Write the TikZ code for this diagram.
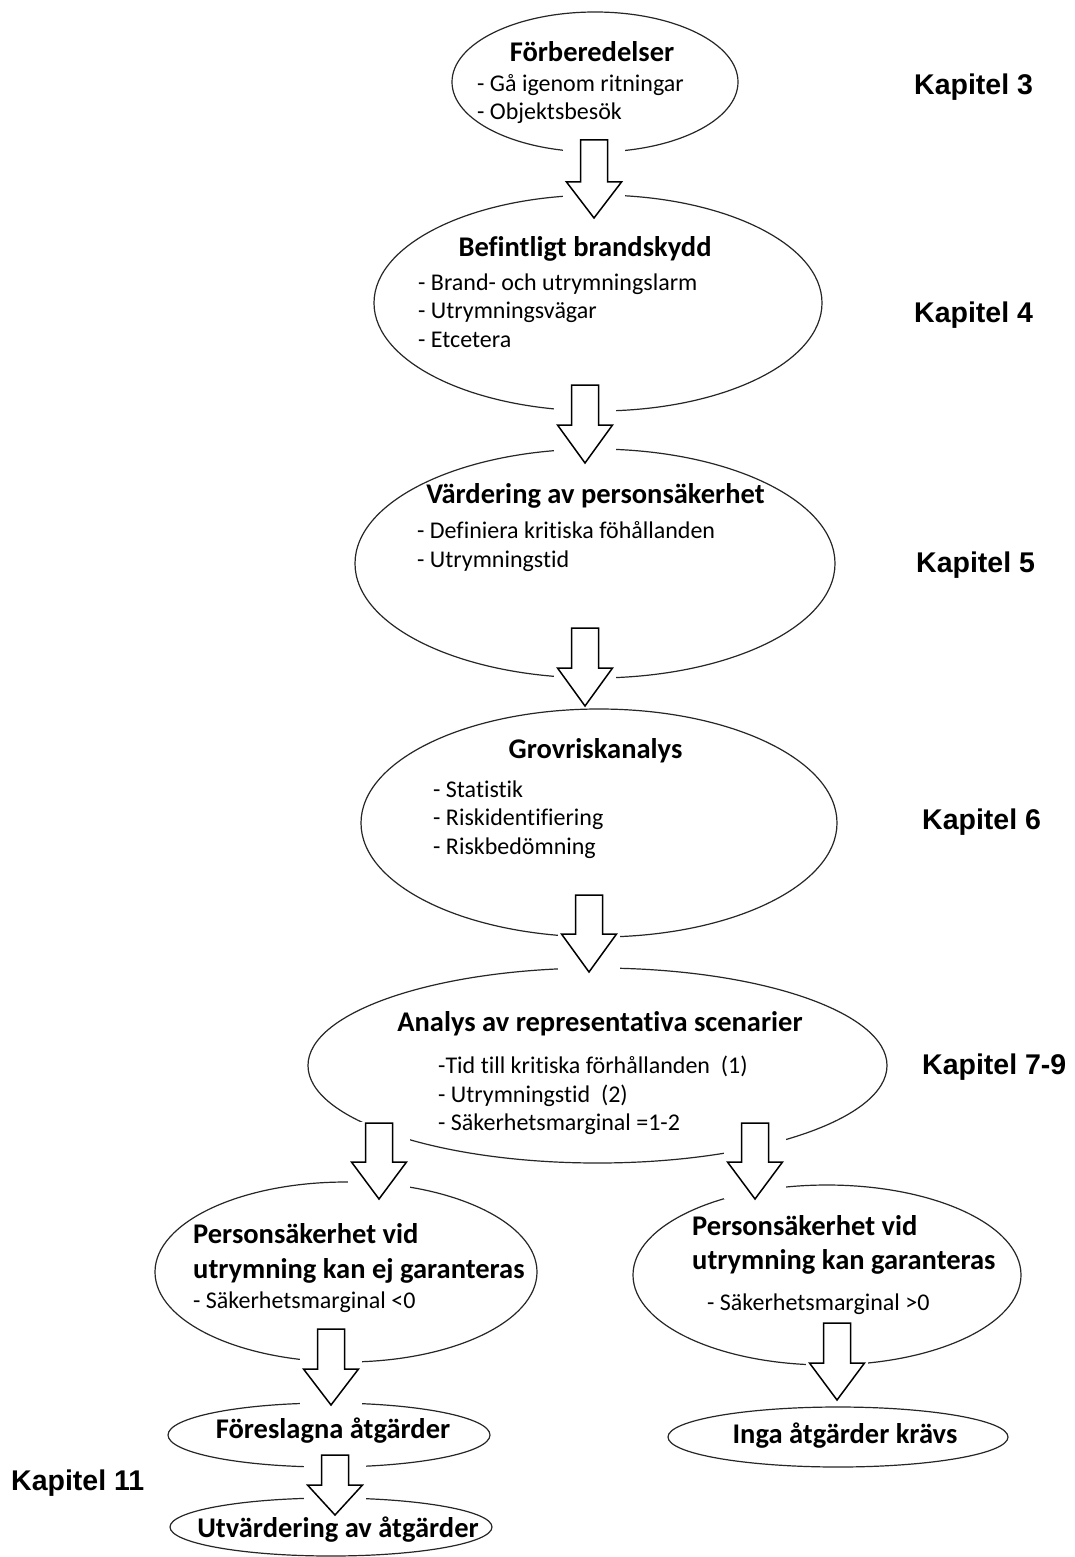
\documentclass[tikz,border=0pt]{standalone}
\usepackage{fontspec}
\setmainfont{Carlito}[Ligatures=CommonOff]
\newfontfamily\kapfamily{Liberation Sans}
\usetikzlibrary{shapes.geometric}
\newcommand{\hfnt}{\fontsize{28.5}{34}\selectfont\bfseries}
\newcommand{\ifnt}{\fontsize{24}{29}\selectfont}
\newcommand{\kfnt}{\kapfamily\fontsize{28.5}{34}\selectfont\bfseries}
% block arrow: #1 name, #2 x, #3 top, #4 neck, #5 tip
\newcommand{\barrow}[5]{%
  \coordinate (#1s) at (#2,#3);
  \coordinate (#1t) at (#2,#5);
  \fill[white] ({#2-31},{#3-1}) rectangle ({#2+31},#5);
  \draw[blk] ({#2-13.5},#3) -- ({#2+13.5},#3) -- ({#2+13.5},#4) -- ({#2+27.5},#4)
    -- (#1t) -- ({#2-27.5},#4) -- ({#2-13.5},#4) -- cycle;}
\begin{document}
\begin{tikzpicture}[x=1pt,y=-1pt,
  oval/.style={ellipse, draw=black!85, line width=1.2pt, inner sep=0pt, outer sep=0pt},
  blk/.style={draw=black, line width=1.5pt, fill=white, line join=miter},
  hd/.style={font=\hfnt, inner sep=0pt, anchor=base},
  hdl/.style={font=\hfnt, inner sep=0pt, anchor=base west},
  itm/.style={font=\ifnt, inner sep=0pt, anchor=base west},
  kap/.style={font=\kfnt, inner sep=0pt, anchor=base west}]
\useasboundingbox[fill=white] (0,0) rectangle (1074,1557);

% ellipses
\node[oval, minimum width=286, minimum height=140] (e1) at (595,82) {};
\node[oval, minimum width=448, minimum height=216] (e2) at (598,303) {};
\node[oval, minimum width=480, minimum height=229] (e3) at (595,563.5) {};
\node[oval, minimum width=476, minimum height=228] (e4) at (599,823) {};
\node[oval, minimum width=579, minimum height=195] (e5) at (597.5,1065.5) {};
\node[oval, minimum width=382, minimum height=180] (e6) at (346,1272) {};
\node[oval, minimum width=388, minimum height=180] (e7) at (827,1275) {};
\node[oval, minimum width=322, minimum height=64] (e8) at (329,1435) {};
\node[oval, minimum width=340, minimum height=60] (e9) at (838,1437) {};
\node[oval, minimum width=322, minimum height=58] (e10) at (331,1527) {};

% block arrows
\barrow{a1}{594}{140}{182}{218}
\barrow{a2}{585}{385}{425}{463}
\barrow{a3}{585}{628}{668}{706}
\barrow{a4}{589}{895}{934}{972}
\barrow{a5}{379}{1123}{1162}{1199}
\barrow{a6}{755}{1123}{1162}{1199}
\barrow{a7}{331}{1329}{1369}{1405}
\barrow{a8}{837}{1323}{1363}{1400}
\barrow{a9}{335}{1455}{1485}{1515}

% texts
\node[hd] (t1h) at (592,62) {Förberedelser};
\node[itm] (t1a) at (477,92) {- Gå igenom ritningar};
\node[itm] (t1b) at (477,120) {- Objektsbesök};

\node[hd] (t2h) at (585,256) {Befintligt brandskydd};
\node[itm] (t2a) at (418,290) {- Brand- och utrymningslarm};
\node[itm] (t2b) at (418,318) {- Utrymningsvägar};
\node[itm] (t2c) at (418,347) {- Etcetera};

\node[hd] (t3h) at (595.5,503) {Värdering av personsäkerhet};
\node[itm] (t3a) at (417,538) {- Definiera kritiska föhållanden};
\node[itm] (t3b) at (417,567) {- Utrymningstid};

\node[hd] (t4h) at (595.5,758) {Grovriskanalys};
\node[itm] (t4a) at (433,797) {- Statistik};
\node[itm] (t4b) at (433,825) {- Riskidentifiering};
\node[itm] (t4c) at (433,854) {- Riskbedömning};

\node[hd] (t5h) at (600,1031) {Analys av representativa scenarier};
\node[itm] (t5a) at (438,1073) {-Tid till kritiska förhållanden\ \ (1)};
\node[itm] (t5b) at (438,1102) {- Utrymningstid\ \ (2)};
\node[itm] (t5c) at (438,1130) {- Säkerhetsmarginal =1-2};

\node[hdl] (t6a) at (193,1243) {Personsäkerhet vid};
\node[hdl] (t6b) at (193,1278) {utrymning kan ej garanteras};
\node[itm] (t6c) at (193,1308) {- Säkerhetsmarginal <0};

\node[hdl] (t7a) at (692,1235) {Personsäkerhet vid};
\node[hdl] (t7b) at (692,1269) {utrymning kan garanteras};
\node[itm] (t7c) at (707,1310) {- Säkerhetsmarginal >0};

\node[hd] (t8) at (333,1438) {Föreslagna åtgärder};
\node[hd] (t9) at (845,1443) {Inga åtgärder krävs};
\node[hd] (t10) at (338,1537) {Utvärdering av åtgärder};

% chapter labels
\node[kap] (k3) at (914,95) {Kapitel 3};
\node[kap] (k4) at (914,322) {Kapitel 4};
\node[kap] (k5) at (916,572) {Kapitel 5};
\node[kap] (k6) at (922,829) {Kapitel 6};
\node[kap] (k7) at (922,1074) {Kapitel 7-9};
\node[kap] (k11) at (11,1490) {Kapitel 11};
\end{tikzpicture}
\end{document}
